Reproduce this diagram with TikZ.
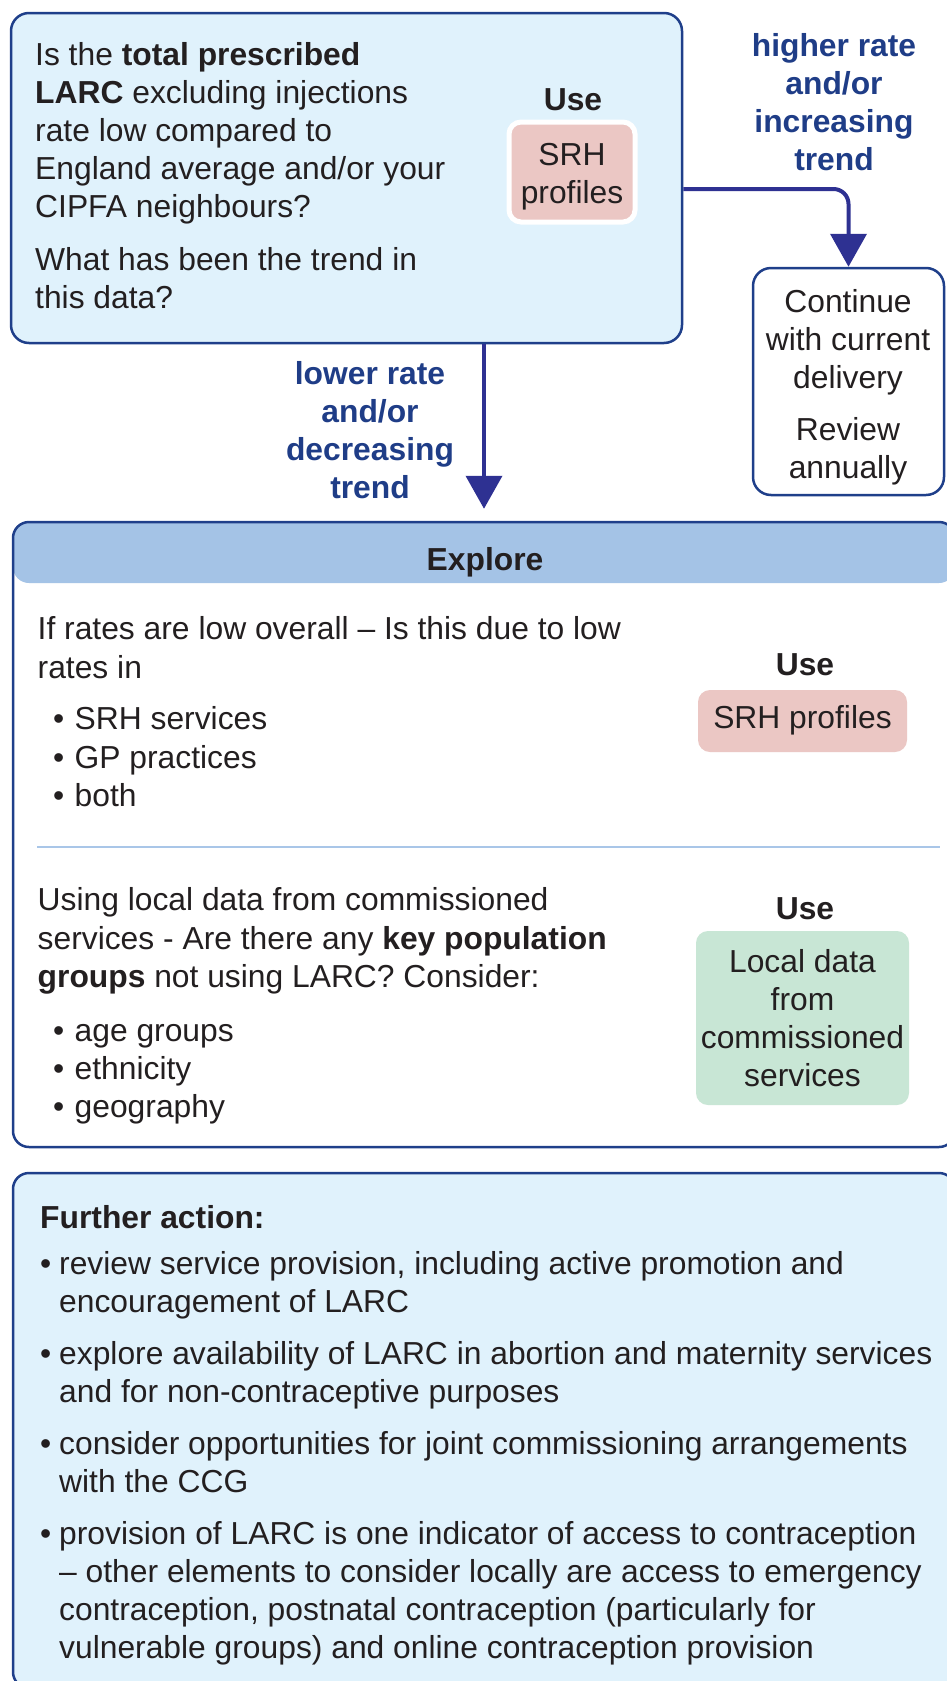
\documentclass[tikz,border=0pt]{standalone}
\usepackage{fontspec}
\setmainfont{Liberation Sans}
\usetikzlibrary{arrows.meta}

\definecolor{ink}{HTML}{231F20}
\definecolor{edge}{HTML}{1F3F8A}
\definecolor{flow}{HTML}{2E3192}
\definecolor{lblblue}{HTML}{1F3D87}
\definecolor{paleblue}{HTML}{E0F2FC}
\definecolor{headblue}{HTML}{A4C3E6}
\definecolor{rosy}{HTML}{EBC7C4}
\definecolor{mint}{HTML}{C8E6D5}
\definecolor{rulecol}{HTML}{A9C6E8}

\newcommand\bodysize{\fontsize{31.8}{38}\selectfont}
\newcommand\widesize{\fontsize{31.8}{38.8}\selectfont}
\newcommand\ebul{\makebox[21.5pt][l]{•}}
\newcommand\fbul{\makebox[19pt][l]{•}}
\newcommand\findent{\hspace*{19pt}}

\begin{document}
\begin{tikzpicture}[x=1pt,y=-1pt,
  panel/.style={draw=edge, line width=2.5pt, rounded corners=18pt, inner sep=0pt},
  widepanel/.style={panel, rounded corners=16pt},
  txt/.style={inner sep=0pt, anchor=north west, align=left, font=\bodysize, text=ink, yshift=26.6pt},
  wtxt/.style={inner sep=0pt, anchor=north west, align=left, font=\widesize, text=ink, yshift=27.16pt},
  ctxt/.style={inner sep=0pt, anchor=north, align=center, font=\bodysize, text=ink, yshift=26.6pt},
  usehead/.style={ctxt, font=\bodysize\bfseries},
  lbl/.style={ctxt, font=\bodysize\bfseries, text=lblblue},
  usebox/.style={rounded corners=12pt, inner sep=0pt, align=center, font=\bodysize, text=ink},
  flowarrow/.style={draw=flow, line width=4pt, -{Triangle[width=36pt,length=33pt]}}
]
\useasboundingbox (0,0) rectangle (947,1681);

% question panel
\node[panel, fill=paleblue, minimum width=671pt, minimum height=330pt] (query) at (346.5,178) {};
\node[txt] (q1) at (35,65.5) {\strut Is the \textbf{total prescribed}\\\textbf{LARC} excluding injections\\rate low compared to\\England average and/or your\\CIPFA neighbours?};
\node[txt] (q2) at (35,270) {\strut What has been the trend in\\this data?};
\node[usehead] (use1) at (573,110) {\strut Use};
\node[usebox, fill=rosy, draw=white, line width=5pt, minimum width=126pt, minimum height=100pt] (srh1) at (572,172) {\rule{0pt}{31pt}SRH\\profiles};

% outcome panel
\node[panel, fill=white, minimum width=191pt, minimum height=227pt] (keep) at (848.5,381.5) {};
\node[ctxt] (k1) at (848,312) {\strut Continue\\with current\\delivery};
\node[ctxt] (k2) at (848,440) {\strut Review\\annually};

% explore panel with header band
\node[widepanel, fill=white, minimum width=942pt, minimum height=625pt,
  path picture={\fill[headblue] (path picture bounding box.north west) rectangle ([yshift=-61pt]path picture bounding box.north east);}] (explore) at (484,834.5) {};
\node[usehead] (exh) at (485,570) {\strut Explore};
\node[wtxt] (e1) at (37.5,639) {\strut If rates are low overall – Is this due to low\\rates in};
\node[wtxt] (e1b) at (53,729) {\strut\ebul SRH services\\\ebul GP practices\\\ebul both};
\draw[rulecol, line width=2pt] (37,847) -- (940,847);
\node[usehead] (use2) at (805,675) {\strut Use};
\node[usebox, fill=rosy, minimum width=209pt, minimum height=62pt, text height=22pt, text depth=6.5pt] (srh2) at (802.5,721) {SRH profiles};
\node[wtxt] (e2) at (37.5,910) {\strut Using local data from commissioned\\services - Are there any \textbf{key population}\\\textbf{groups} not using LARC? Consider:};
\node[txt] (e2b) at (53,1041) {\strut\ebul age groups\\\ebul ethnicity\\\ebul geography};
\node[usehead] (use3) at (805,919) {\strut Use};
\node[usebox, fill=mint, minimum width=213pt, minimum height=174pt] (local) at (802.5,1018) {Local data\\from\\commissioned\\services};

% further action panel
\node[widepanel, fill=paleblue, minimum width=942pt, minimum height=515pt] (further) at (484,1430.5) {};
\node[txt, font=\bodysize\bfseries] (fa) at (40,1228) {\strut Further action:};
\node[txt] (f1) at (40,1274) {\strut\fbul review service provision, including active promotion and\\\findent encouragement of LARC};
\node[txt] (f2) at (40,1364) {\strut\fbul explore availability of LARC in abortion and maternity services\\\findent and for non-contraceptive purposes};
\node[txt] (f3) at (40,1454) {\strut\fbul consider opportunities for joint commissioning arrangements\\\findent with the CCG};
\node[txt] (f4) at (40,1544) {\strut\fbul provision of LARC is one indicator of access to contraception\\\findent – other elements to consider locally are access to emergency\\\findent contraception, postnatal contraception (particularly for\\\findent vulnerable groups) and online contraception provision};

% connectors and their labels
\draw[flowarrow, rounded corners=15pt] ([yshift=-11pt]query.east) -| (keep.north);
\draw[flowarrow] (query.south -| explore.north) -- ([yshift=12pt]explore.north);
\node[lbl] (up) at (834,56) {\strut higher rate\\and/or\\increasing\\trend};
\node[lbl] (down) at (370,384) {\strut lower rate\\and/or\\decreasing\\trend};
\end{tikzpicture}
\end{document}
